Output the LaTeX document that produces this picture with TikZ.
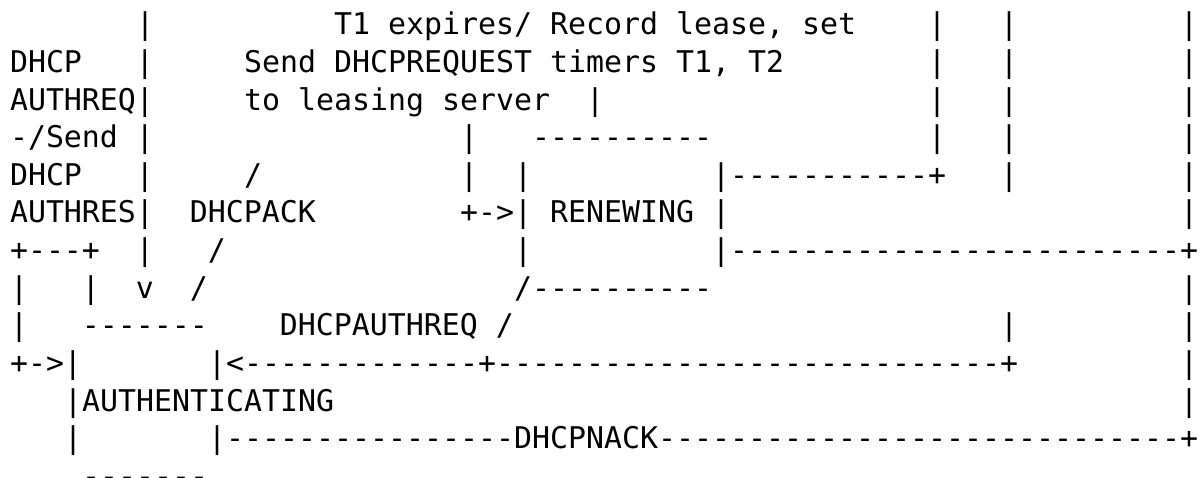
\documentclass[tikz,border=0pt]{standalone}
\usepackage{fontspec}
\setmonofont{DejaVu Sans Mono}
\newcount\dashcnt
% n blank columns
\newcommand\sk[1]{\hskip#1\fontcharwd\font`\x\relax}
% n hyphens, kept apart so that no ligature forms
\newcommand\dd[1]{\dashcnt=#1\relax\loop\ifnum\dashcnt>0\relax -\kern0pt\advance\dashcnt by -1\relax\repeat}
\begin{document}
\begin{tikzpicture}[x=1pt,y=-1pt,
  asciiline/.style={anchor=base west,inner sep=0pt,outer sep=0pt,
    font=\fontsize{29.9}{37.6}\selectfont\ttfamily\frenchspacing,text=black}]
\useasboundingbox (0,0) rectangle (1201,478);
\fill[white] (0,0) rectangle (1201,478);
\def\pitch{37.6}
\node[asciiline] (l1)  at (10,35+0*\pitch)  {\sk{7}|\sk{10}T1 expires/ Record lease, set\sk{4}|\sk{3}|\sk{9}|};
\node[asciiline] (l2)  at (10,35+1*\pitch)  {DHCP\sk{3}|\sk{5}Send DHCPREQUEST timers T1, T2\sk{8}|\sk{3}|\sk{9}|};
\node[asciiline] (l3)  at (10,35+2*\pitch)  {AUTHREQ|\sk{5}to leasing server\sk{2}|\sk{18}|\sk{3}|\sk{9}|};
\node[asciiline] (l4)  at (10,35+3*\pitch)  {\dd{1}/Send\sk{1}|\sk{17}|\sk{3}\dd{10}\sk{12}|\sk{3}|\sk{9}|};
\node[asciiline] (l5)  at (10,35+4*\pitch)  {DHCP\sk{3}|\sk{5}/\sk{11}|\sk{2}|\sk{10}|\dd{11}+\sk{3}|\sk{9}|};
\node[asciiline] (l6)  at (10,35+5*\pitch)  {AUTHRES|\sk{2}DHCPACK\sk{8}+\dd{1}>|\sk{1}RENEWING\sk{1}|\sk{25}|};
\node[asciiline] (l7)  at (10,35+6*\pitch)  {+\dd{3}+\sk{2}|\sk{3}/\sk{16}|\sk{10}|\dd{25}+};
\node[asciiline] (l8)  at (10,35+7*\pitch)  {|\sk{3}|\sk{2}v\sk{2}/\sk{17}/\dd{10}\sk{26}|};
\node[asciiline] (l9)  at (10,35+8*\pitch)  {|\sk{3}\dd{7}\sk{4}DHCPAUTHREQ\sk{1}/\sk{27}|\sk{9}|};
\node[asciiline] (l10) at (10,35+9*\pitch)  {+\dd{1}>|\sk{7}|<\dd{13}+\dd{28}+\sk{9}|};
\node[asciiline] (l11) at (10,35+10*\pitch) {\sk{3}|AUTHENTICATING\sk{47}|};
\node[asciiline] (l12) at (10,35+11*\pitch) {\sk{3}|\sk{7}|\dd{16}DHCPNACK\dd{29}+};
\node[asciiline] (l13) at (10,35+12*\pitch) {\sk{4}\dd{7}};
\end{tikzpicture}
\end{document}
